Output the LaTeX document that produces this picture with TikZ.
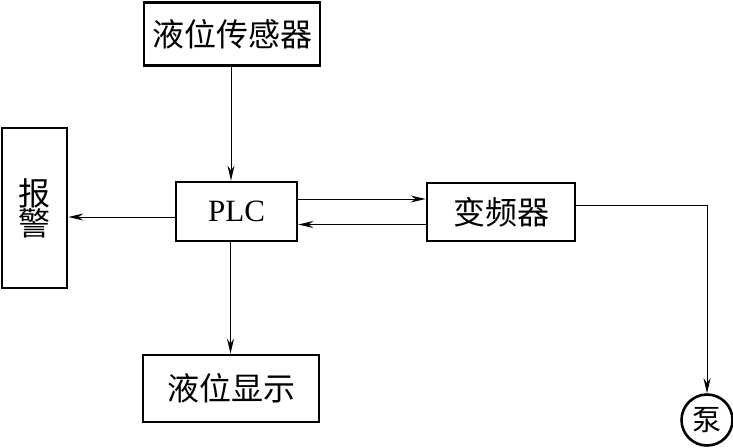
\documentclass[tikz,border=0pt]{standalone}
\usepackage{fontspec}
\setmainfont{Liberation Serif}
\newfontfamily\cjk{Noto Sans CJK SC}
\usetikzlibrary{arrows.meta,calc}
\begin{document}
\begin{tikzpicture}[x=1pt,y=-1pt,
  box/.style={draw,line width=2.8pt,rectangle,inner sep=0pt},
  conn/.style={line width=1pt,-{Stealth[length=15pt,width=7pt,inset=5pt]}},
  cjktext/.style={font=\cjk\fontsize{32pt}{34pt}\selectfont}]
\useasboundingbox (0,0) rectangle (733,447);
\node[box,cjktext,minimum width=176pt,minimum height=63pt] (sensor) at (232,34) {液位传感器};
\node[box,font=\fontsize{31pt}{33pt}\selectfont,minimum width=121pt,minimum height=59pt] (plc) at (236.5,211.5) {PLC};
\node[box,cjktext,minimum width=65pt,minimum height=160pt,align=center] (alarm) at (34.5,208) {报\\[-4pt]警};
\node[box,cjktext,minimum width=148pt,minimum height=58pt] (vfd) at (501,212) {变频器};
\node[box,cjktext,minimum width=176pt,minimum height=67pt] (disp) at (231,388.5) {液位显示};
\node[draw,line width=2.6pt,circle,minimum size=51pt,inner sep=0pt,font=\cjk\fontsize{29pt}{30pt}\selectfont] (pump) at (707,420) {泵};
\draw[conn] ([xshift=-1pt]sensor.south) -- ([xshift=-1pt]sensor.south |- plc.north);
\draw[conn] ([yshift=-5.5pt]plc.west) -- ([yshift=-5.5pt]plc.west -| alarm.east);
\draw[conn] ([yshift=12.5pt]plc.east) -- ([yshift=12.5pt]plc.east -| vfd.west);
\draw[conn] ([yshift=-12.5pt]vfd.west) -- ([yshift=-12.5pt]vfd.west -| plc.east);
\draw[conn] ([xshift=-6pt]plc.south) -- ([xshift=-6pt]plc.south |- disp.north);
\draw[conn] ([yshift=7pt]vfd.east) -| (pump.north);
\end{tikzpicture}
\end{document}
